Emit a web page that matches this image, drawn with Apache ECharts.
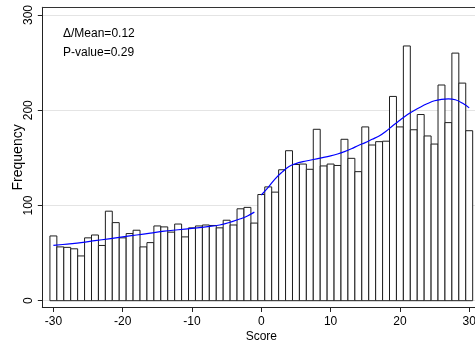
<!DOCTYPE html>
<html>
<head>
<meta charset="utf-8">
<script src="https://cdn.jsdelivr.net/npm/echarts@6/dist/echarts.min.js"></script>
<style>
html,body{margin:0;padding:0;background:#fff;}
#chart{width:475px;height:346px;}
</style>
</head>
<body>
<div id="chart"></div>
<script>
// Bin centres (Score) and histogram frequencies
const scores = [-30,-29,-28,-27,-26,-25,-24,-23,-22,-21,-20,-19,-18,-17,-16,-15,-14,-13,-12,-11,-10,-9,-8,-7,-6,-5,-4,-3,-2,-1,
  0,1,2,3,4,5,6,7,8,9,10,11,12,13,14,15,16,17,18,19,20,21,22,23,24,25,26,27,28,29,30];
const frequency = [68,56.5,56,54.5,47,66,69,58,94,82,66,70.5,74,56.5,61,78.5,77.5,72,80.5,67,76.5,78.5,79.5,79,76.5,84.5,79.5,96.5,98,81.5,
  111.5,119.5,114,137.5,157.5,143,143.5,138,180,141.5,143.5,142,169.5,149.5,135.5,182.5,163.5,167,167.5,214.5,182.5,267.5,179.5,195.5,173,164.5,226.5,187,260,228.5,178.5];

// Smoothed fits, left (negative scores) and right (non-negative scores)
const fitLeftX = [-30,-28,-26,-24,-22,-20,-18,-16,-14,-12,-10,-8,-6,-4,-3,-2,-1];
const fitLeftY = [58,59.5,61,63,65,67,69,71,73,74.5,76,77.5,79.5,83.5,86,89,93];
const fitRightX = [0,1,2,3,4,5,6,7,8,9,10,11,12,13,14,15,16,17,18,19,20,21,22,23,24,25,26,27,28,29,30];
const fitRightY = [111,119,128,135,141,144,146,147.5,149,150.5,152,154,156.5,159.5,163,166,169.5,173,178,184,189.5,195,199.5,203.5,207,210,211.5,212,211,207.5,202.5];

// Tick labels
const xTicks = [-30,-20,-10,0,10,20,30];
const yTicks = [0,100,200,300];

const annotations = ['\u0394/Mean=0.12', 'P-value=0.29'];

const FONT = 'Liberation Sans, Arial, Helvetica, sans-serif';
const chart = echarts.init(document.getElementById('chart'), null, {renderer: 'canvas'});

const barData = scores.map((s, i) => [s, frequency[i]]);
const leftData = fitLeftX.map((x, i) => [x, fitLeftY[i]]);
const rightData = fitRightX.map((x, i) => [x, fitRightY[i]]);

const option = {
  animation: false,
  backgroundColor: '#fff',
  textStyle: {fontFamily: FONT},
  grid: {left: 42.3, top: 7.3, width: 438, height: 300.2, containLabel: false, outerBoundsMode: 'none'},
  xAxis: [{
    type: 'value', min: -31.6, max: 31.6,
    name: 'Score', nameLocation: 'middle', nameGap: 23, nameMoveOverlap: false,
    nameTextStyle: {color: '#000', fontSize: 12, fontFamily: FONT},
    axisLine: {show: true, onZero: false, lineStyle: {color: '#222', width: 1}},
    axisTick: {show: true, length: 4.5, customValues: xTicks, lineStyle: {color: '#222'}},
    axisLabel: {show: true, customValues: xTicks, margin: 8, color: '#000', fontSize: 12, fontFamily: FONT},
    splitLine: {show: false}
  }, {
    type: 'value', min: -31.6, max: 31.6, position: 'top',
    axisLine: {show: true, onZero: false, lineStyle: {color: '#333', width: 1}},
    axisTick: {show: false}, axisLabel: {show: false}, splitLine: {show: false}
  }],
  yAxis: {
    type: 'value', min: -7.14, max: 308.1,
    name: 'Frequency', nameLocation: 'middle', nameGap: 17, nameMoveOverlap: false,
    nameTextStyle: {color: '#000', fontSize: 14, fontFamily: FONT},
    axisLine: {show: true, onZero: false, lineStyle: {color: '#222', width: 1}},
    axisTick: {show: true, length: 4.5, customValues: yTicks, lineStyle: {color: '#222'}},
    axisLabel: {show: true, customValues: yTicks, rotate: 90, margin: 8, color: '#000', fontSize: 12, fontFamily: FONT},
    splitLine: {show: true, lineStyle: {color: '#e4e4e4', width: 1}}
  },
  graphic: [
    {type: 'text', left: 63, top: 28, style: {text: annotations[0], fill: '#000', font: '12px ' + FONT}},
    {type: 'text', left: 63, top: 47, style: {text: annotations[1], fill: '#000', font: '12px ' + FONT}}
  ],
  series: [{
    type: 'custom',
    data: barData,
    encode: {x: 0, y: 1},
    z: 2,
    renderItem: function (params, api) {
      const x = api.value(0), y = api.value(1);
      const tl = api.coord([x - 0.5, y]);
      const br = api.coord([x + 0.5, 0]);
      return {
        type: 'rect',
        shape: {x: tl[0], y: tl[1], width: br[0] - tl[0], height: br[1] - tl[1]},
        style: {fill: '#fff', stroke: '#1e1e1e', lineWidth: 1}
      };
    }
  }, {
    type: 'line', data: leftData, smooth: 0.4, showSymbol: false, z: 5,
    lineStyle: {color: '#0000ff', width: 1.2}, itemStyle: {color: '#0000ff'}
  }, {
    type: 'line', data: rightData, smooth: 0.4, showSymbol: false, z: 5,
    lineStyle: {color: '#0000ff', width: 1.2}, itemStyle: {color: '#0000ff'}
  }]
};
chart.setOption(option);
</script>
</body>
</html>
